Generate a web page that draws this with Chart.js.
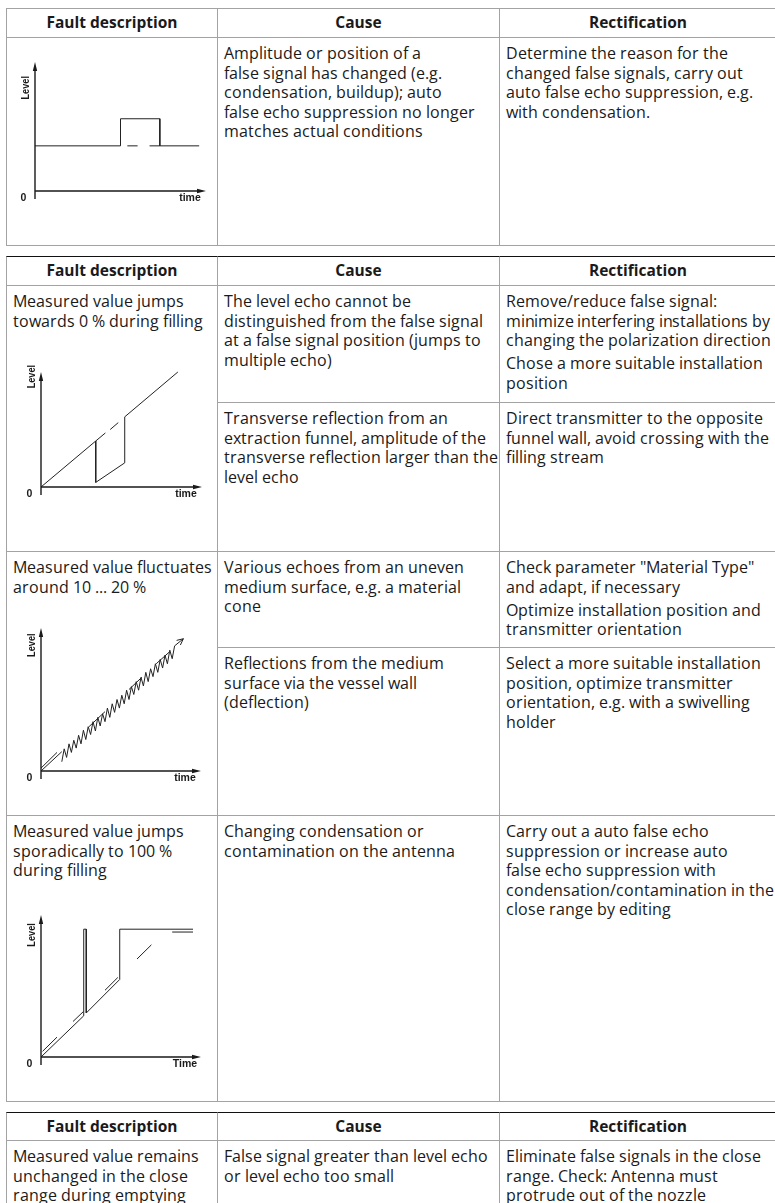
<!DOCTYPE html>
<html>
<head>
<meta charset="utf-8">
<title>Fault tables</title>
<script src="https://cdn.jsdelivr.net/npm/chart.js@4.4.1/dist/chart.umd.min.js"></script>
<style>
  @font-face {
    font-family: "OpenSansTight";
    src: local("Open Sans Regular"), local("OpenSans-Regular"), local("Open Sans");
    font-weight: 400;
    ascent-override: 88%;
    descent-override: 22%;
    line-gap-override: 0%;
  }
  html, body { margin: 0; padding: 0; background: #fff; }
  #page { position: relative; width: 775px; height: 1203px; overflow: hidden; }
  .cell {
    position: absolute; box-sizing: border-box;
    border-left: 1px solid #a3a3a3; border-top: 1px solid #a3a3a3;
    padding: 6px 0 0 6px;
    font: 15.8px/19.5px "OpenSansTight", "Open Sans", sans-serif; color: #1a1a1a;
    white-space: nowrap; overflow: hidden;
  }
  .cell p { margin: 0 0 3.5px 0; }
  .snug { letter-spacing: -0.2px; }
  .head {
    font: 700 15.5px/20px "Open Sans", sans-serif;
    text-align: center; padding: 3px 0 0 0;
  }
  .dark { border-top-color: #111; }
  .rule { position: absolute; left: 6px; width: 790px; height: 0; border-top: 1px solid #a3a3a3; }
  canvas { position: absolute; }
</style>
</head>
<body>
<div id="page">

  <!-- table 1 -->
  <div class="cell head" style="left:6px;top:8px;width:211px;height:29px">Fault description</div>
  <div class="cell head" style="left:217px;top:8px;width:282px;height:29px">Cause</div>
  <div class="cell head" style="left:499px;top:8px;width:277px;height:29px">Rectification</div>
  <div class="cell" style="left:6px;top:37px;width:211px;height:208px"></div>
  <div class="cell" style="left:217px;top:37px;width:282px;height:208px">Amplitude or position of a<br>false signal has changed (e.g.<br>condensation, buildup); auto<br>false echo suppression no longer<br>matches actual conditions</div>
  <div class="cell" style="left:499px;top:37px;width:277px;height:208px">Determine the reason for the<br>changed false signals, carry out<br>auto false echo suppression, e.g.<br>with condensation.</div>
  <div class="rule" style="top:245px"></div>

  <!-- table 2 -->
  <div class="cell head dark" style="left:6px;top:256px;width:211px;height:29px">Fault description</div>
  <div class="cell head dark" style="left:217px;top:256px;width:282px;height:29px">Cause</div>
  <div class="cell head dark" style="left:499px;top:256px;width:277px;height:29px">Rectification</div>

  <div class="cell" style="left:6px;top:285px;width:211px;height:266px">Measured value jumps<br>towards 0 % during filling</div>
  <div class="cell" style="left:217px;top:285px;width:282px;height:117px">The level echo cannot be<br>distinguished from the false signal<br>at a false signal position (jumps to<br>multiple echo)</div>
  <div class="cell" style="left:499px;top:285px;width:277px;height:117px"><p>Remove/reduce false signal:<br><span class="snug">minimize interfering installations by</span><br>changing the polarization direction</p><p>Chose a more suitable installation<br>position</p></div>
  <div class="cell" style="left:217px;top:402px;width:282px;height:149px">Transverse reflection from an<br>extraction funnel, amplitude of the<br>transverse reflection larger than the<br>level echo</div>
  <div class="cell" style="left:499px;top:402px;width:277px;height:149px">Direct transmitter to the opposite<br>funnel wall, avoid crossing with the<br>filling stream</div>

  <div class="cell" style="left:6px;top:551px;width:211px;height:264px">Measured value fluctuates<br>around 10 ... 20 %</div>
  <div class="cell" style="left:217px;top:551px;width:282px;height:96px">Various echoes from an uneven<br>medium surface, e.g. a material<br>cone</div>
  <div class="cell" style="left:499px;top:551px;width:277px;height:96px"><p>Check parameter "Material Type"<br>and adapt, if necessary</p><p>Optimize installation position and<br>transmitter orientation</p></div>
  <div class="cell" style="left:217px;top:647px;width:282px;height:168px">Reflections from the medium<br>surface via the vessel wall<br>(deflection)</div>
  <div class="cell" style="left:499px;top:647px;width:277px;height:168px">Select a more suitable installation<br>position, optimize transmitter<br>orientation, e.g. with a swivelling<br>holder</div>

  <div class="cell" style="left:6px;top:815px;width:211px;height:286px">Measured value jumps<br>sporadically to 100 %<br>during filling</div>
  <div class="cell" style="left:217px;top:815px;width:282px;height:286px">Changing condensation or<br>contamination on the antenna</div>
  <div class="cell" style="left:499px;top:815px;width:277px;height:286px">Carry out a auto false echo<br>suppression or increase auto<br>false echo suppression with<br>condensation/contamination in the<br>close range by editing</div>
  <div class="rule" style="top:1101px"></div>

  <!-- table 3 -->
  <div class="cell head dark" style="left:6px;top:1112px;width:211px;height:28px">Fault description</div>
  <div class="cell head dark" style="left:217px;top:1112px;width:282px;height:28px">Cause</div>
  <div class="cell head dark" style="left:499px;top:1112px;width:277px;height:28px">Rectification</div>
  <div class="cell" style="left:6px;top:1140px;width:211px;height:80px">Measured value remains<br>unchanged in the close<br>range during emptying</div>
  <div class="cell" style="left:217px;top:1140px;width:282px;height:80px">False signal greater than level echo<br>or level echo too small</div>
  <div class="cell" style="left:499px;top:1140px;width:277px;height:80px">Eliminate false signals in the close<br>range. Check: Antenna must<br>protrude out of the nozzle</div>

  <canvas id="chartStep"   width="203" height="155" style="left:9px;top:52px"></canvas>
  <canvas id="chartJump"   width="193" height="141" style="left:15px;top:362px"></canvas>
  <canvas id="chartNoise"  width="192" height="169" style="left:15px;top:618px"></canvas>
  <canvas id="chartSpike"  width="192" height="168" style="left:15px;top:905px"></canvas>
</div>

<script>
// all values in % of the axis length (time 0..100, level 0..100)

// false signal changed: level line with a step
var stepTime  = [0, 50, 50, 73, 73];
var stepLevel = [35, 35, 56, 56, 35];
var flatTime  = [54, 60, null, 67, 96];
var flatLevel = [35, 35, null, 35, 35];

// jumps towards 0 % during filling
var jumpTime  = [0, 34, 34, 52, 52, 85];
var jumpLevel = [0, 40, 4, 21, 61, 100];
var fillTime  = [34, 40, null, 43, 48];
var fillLevel = [40, 47, null, 50, 56];

// fluctuates around 10 ... 20 %
var rampTime  = [0, 13, null, 0, 10, null, 30, 40, null, 55, 63, null, 72, 80];
var rampLevel = [0, 13.5, null, 2, 13, null, 31, 41.5, null, 57, 65.5, null, 75, 83];
var noiseTime  = [13, 14.5, 16, 17.5, 19, 20.5, 22, 23.5, 25, 26.5, 28, 29.5, 31, 32.5, 34, 35.5,
                  37, 38.5, 40, 41.5, 43, 44.5, 46, 47.5, 49, 50.5, 52, 53.5, 55, 56.5, 58, 59.5,
                  61, 62.5, 64, 65.5, 67, 68.5, 70, 71.5, 73, 74.5, 76, 77.5, 79, 80.5, 82, 83.5, 89];
var noiseLevel = [6.5, 15.5, 9.5, 19, 13, 21.5, 16, 25, 19, 28.5, 22, 31, 25.5, 34.5, 28, 37.5,
                  31.5, 40, 34.5, 44, 37.5, 47, 41, 50, 44, 53, 47, 56.5, 50, 59, 53.5, 62.5,
                  56.5, 65.5, 59.5, 69, 62.5, 71.5, 66, 75, 69, 78, 72, 81, 75, 84.5, 78.5, 87.5, 92.5];

// jumps sporadically to 100 % during filling
var spikeTime  = [0, 26.7, 26.7, 28.3, 28.3, 49.2, 49.2, 95];
var spikeLevel = [0, 29, 90, 90, 31, 54.6, 90, 90];
var trueTime   = [1, 10, null, 20, 26.5, null, 40, 48, null, 60, 69, null, 82, 95];
var trueLevel  = [4, 14, null, 25, 32, null, 47, 56, null, 69, 79, null, 88, 88];

function pts(xs, ys) {
  return xs.map(function (x, i) { return { x: x, y: ys[i] }; });
}

function path(xs, ys, extra) {
  var ds = {
    data: pts(xs, ys),
    borderColor: '#222',
    borderWidth: 1,
    pointRadius: 0,
    tension: 0,
    fill: false,
    clip: false
  };
  return Object.assign(ds, extra || {});
}

// axes with arrow heads, "0", "time" and the rotated "Level"
var sketchAxes = {
  id: 'sketchAxes',
  afterDatasetsDraw: function (chart, args, opts) {
    var ctx = chart.ctx, x = chart.scales.x, y = chart.scales.y;
    var ox = x.getPixelForValue(0), oy = y.getPixelForValue(0);
    var tx = x.getPixelForValue(100), ty = y.getPixelForValue(100);
    ctx.save();
    ctx.strokeStyle = '#1a1a1a';
    ctx.fillStyle = '#1a1a1a';
    ctx.lineWidth = 1.4;
    ctx.beginPath();
    ctx.moveTo(ox, oy + 8);
    ctx.lineTo(ox, ty + 6);
    ctx.moveTo(ox, oy);
    ctx.lineTo(tx - 6, oy);
    ctx.stroke();
    ctx.beginPath();
    ctx.moveTo(ox, ty);
    ctx.lineTo(ox - 2.2, ty + 9);
    ctx.lineTo(ox + 2.2, ty + 9);
    ctx.closePath();
    ctx.moveTo(tx, oy);
    ctx.lineTo(tx - 9, oy - 2.2);
    ctx.lineTo(tx - 9, oy + 2.2);
    ctx.closePath();
    ctx.fill();

    ctx.font = 'bold 10.5px "Liberation Sans", Arial, sans-serif';
    ctx.textAlign = 'center';
    ctx.textBaseline = 'middle';
    ctx.fillText('0', ox - 11.5, oy + 7);
    ctx.fillText(opts.timeLabel, tx - 16, oy + 7);
    ctx.translate(ox - 9.5, y.getPixelForValue(opts.levelAt));
    ctx.rotate(-Math.PI / 2);
    ctx.scale(0.8, 1);
    ctx.font = 'bold 11.5px "Liberation Sans", Arial, sans-serif';
    ctx.fillText('Level', 0, 0);
    ctx.restore();

    // arrow head at the end of a dataset line
    chart.data.datasets.forEach(function (ds, i) {
      if (!ds.endArrow) return;
      var p = chart.getDatasetMeta(i).data;
      var a = p[p.length - 1], b = p[p.length - 2];
      var ang = Math.atan2(a.y - b.y, a.x - b.x);
      ctx.save();
      ctx.strokeStyle = '#222';
      ctx.lineWidth = 1;
      ctx.beginPath();
      ctx.moveTo(a.x + 7 * Math.cos(ang + 2.7), a.y + 7 * Math.sin(ang + 2.7));
      ctx.lineTo(a.x, a.y);
      ctx.lineTo(a.x + 7 * Math.cos(ang - 2.7), a.y + 7 * Math.sin(ang - 2.7));
      ctx.stroke();
      ctx.restore();
    });
  }
};

function sketch(id, datasets, timeLabel, levelAt) {
  return new Chart(document.getElementById(id), {
    type: 'line',
    data: { datasets: datasets },
    options: {
      responsive: false,
      animation: false,
      events: [],
      layout: { padding: { left: 26, right: 6, top: 10, bottom: 16 } },
      scales: {
        x: { type: 'linear', min: 0, max: 100, display: false },
        y: { type: 'linear', min: 0, max: 100, display: false }
      },
      plugins: {
        legend: { display: false },
        tooltip: { enabled: false },
        sketchAxes: { timeLabel: timeLabel, levelAt: levelAt }
      }
    },
    plugins: [sketchAxes]
  });
}

sketch('chartStep', [
  path(stepTime, stepLevel),
  path(flatTime, flatLevel)
], 'time', 80);

sketch('chartJump', [
  path(jumpTime, jumpLevel),
  path(fillTime, fillLevel)
], 'time', 96);

sketch('chartNoise', [
  path(rampTime, rampLevel),
  path(noiseTime, noiseLevel, { endArrow: true })
], 'time', 88);

sketch('chartSpike', [
  path(spikeTime, spikeLevel),
  path(trueTime, trueLevel)
], 'Time', 86);
</script>
</body>
</html>
